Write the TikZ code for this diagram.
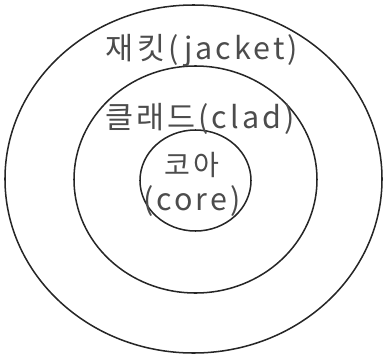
\documentclass[tikz,border=0pt]{standalone}
\usepackage{fontspec}
\newfontfamily\kor[LetterSpace=10]{Noto Sans CJK KR}
\usetikzlibrary{shapes.geometric}

\begin{document}
\begin{tikzpicture}[x=0.03cm,y=-0.03cm,
        layer/.style={ellipse,draw=black!85,line width=1.3pt,inner sep=0pt},
        label/.style={font=\kor\fontsize{26}{28}\selectfont,text=black!70,inner sep=0pt}]
        \useasboundingbox (0,0) rectangle (383,358);
        % three layers of the fibre
        \node[layer,minimum width=11.31cm,minimum height=10.44cm] (jacket) at (193.5,179) {};
        \node[layer,minimum width=7.29cm,minimum height=6.81cm] (clad) at (195.5,179.5) {};
        \node[layer,minimum width=3.33cm,minimum height=3.03cm] (core) at (195.5,180.5) {};
        % names
        \node[label] (jacketname) at (202,51) {재킷(jacket)};
        \node[label] (cladname) at (200,119) {클래드(clad)};
        \node[label,font=\kor\fontsize{24}{26}\selectfont] (corename) at (192,165) {코아};
        \node[label] (coreword) at (192,201) {(core)};
    \end{tikzpicture}
\end{document}
